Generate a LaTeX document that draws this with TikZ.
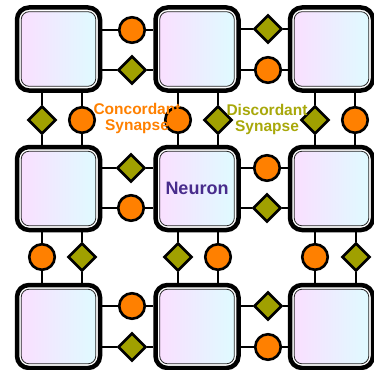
\documentclass[tikz,border=0pt]{standalone}
\usepackage{fontspec}
\setmainfont{Liberation Sans}
\usetikzlibrary{shapes.geometric}
\definecolor{orng}{RGB}{255,128,0}
\definecolor{olv}{RGB}{160,160,0}
\definecolor{olvtxt}{RGB}{168,168,10}
\definecolor{npink}{RGB}{251,222,255}
\definecolor{ncyan}{RGB}{222,252,255}
\definecolor{npurp}{RGB}{72,44,140}
\begin{document}
\begin{tikzpicture}[x=1pt,y=-1pt,
  neuron/.style={draw=black, line width=4.5pt, fill=white, rounded corners=12pt,
    minimum size=83pt, inner sep=0pt,
    path picture={\shadedraw[left color=npink,right color=ncyan,draw=black!85,
      line width=0.8pt,rounded corners=8pt]
      ([shift={(4.2pt,-4.2pt)}]path picture bounding box.north west) rectangle
      ([shift={(-4.2pt,4.2pt)}]path picture bounding box.south east);}},
  conn/.style={draw=black, line width=2.6pt},
  syncirc/.style={circle, draw=black, line width=2.6pt, fill=orng, minimum size=25.5pt, inner sep=0pt},
  syndiam/.style={diamond, shape aspect=1, draw=black, line width=2.6pt, fill=olv, minimum size=28pt, inner sep=0pt},
  lbl/.style={font=\fontsize{15.5}{16}\selectfont\bfseries, align=center, inner sep=0pt}
]
\useasboundingbox (0,0) rectangle (374,369);

% neurons
\node[neuron] (n11) at (58.5,49) {};
\node[neuron] (n12) at (197,49) {};
\node[neuron] (n13) at (331.5,49) {};
\node[neuron] (n21) at (58.5,188.5) {};
\node[neuron, font=\fontsize{18}{20}\selectfont\bfseries, text=npurp] (n22) at (197,188.5) {Neuron};
\node[neuron] (n23) at (331.5,188.5) {};
\node[neuron] (n31) at (58.5,326.5) {};
\node[neuron] (n32) at (197,326.5) {};
\node[neuron] (n33) at (331.5,326.5) {};

% horizontal synapses
\node[syncirc] (hA1) at (132,30) {};
\node[syndiam] (hA2) at (132,70) {};
\node[syndiam] (hB1) at (268,29) {};
\node[syncirc] (hB2) at (268,70) {};
\node[syndiam] (hC1) at (131,168) {};
\node[syncirc] (hC2) at (131,208) {};
\node[syncirc] (hD1) at (267,168) {};
\node[syndiam] (hD2) at (267,208) {};
\node[syncirc] (hE1) at (132,306) {};
\node[syndiam] (hE2) at (132,347) {};
\node[syndiam] (hF1) at (268,306) {};
\node[syncirc] (hF2) at (268,347) {};

% vertical synapses
\node[syndiam] (vA1) at (42,120) {};
\node[syncirc] (vA2) at (82,120) {};
\node[syncirc] (vB1) at (178,120) {};
\node[syndiam] (vB2) at (218,120) {};
\node[syndiam] (vC1) at (315,120) {};
\node[syncirc] (vC2) at (355,120) {};
\node[syncirc] (vD1) at (42,257) {};
\node[syndiam] (vD2) at (82,257) {};
\node[syndiam] (vE1) at (178,257) {};
\node[syncirc] (vE2) at (218,257) {};
\node[syncirc] (vF1) at (315,257) {};
\node[syndiam] (vF2) at (356,257) {};

% horizontal connectors
\foreach \s/\a/\b in {hA1/n11/n12, hA2/n11/n12, hB1/n12/n13, hB2/n12/n13,
                      hC1/n21/n22, hC2/n21/n22, hD1/n22/n23, hD2/n22/n23,
                      hE1/n31/n32, hE2/n31/n32, hF1/n32/n33, hF2/n32/n33}
  \draw[conn] (\a.east |- \s) -- (\s) -- (\b.west |- \s);

% vertical connectors
\foreach \s/\a/\b in {vA1/n11/n21, vA2/n11/n21, vB1/n12/n22, vB2/n12/n22,
                      vC1/n13/n23, vC2/n13/n23, vD1/n21/n31, vD2/n21/n31,
                      vE1/n22/n32, vE2/n22/n32, vF1/n23/n33, vF2/n23/n33}
  \draw[conn] (\a.south -| \s) -- (\s) -- (\b.north -| \s);

% labels
\node[lbl, text=orng] (lc) at (137,118) {Concordant\\Synapse};
\node[lbl, text=olvtxt] (ld) at (267,119.6) {Discordant\\Synapse};
\end{tikzpicture}
\end{document}
